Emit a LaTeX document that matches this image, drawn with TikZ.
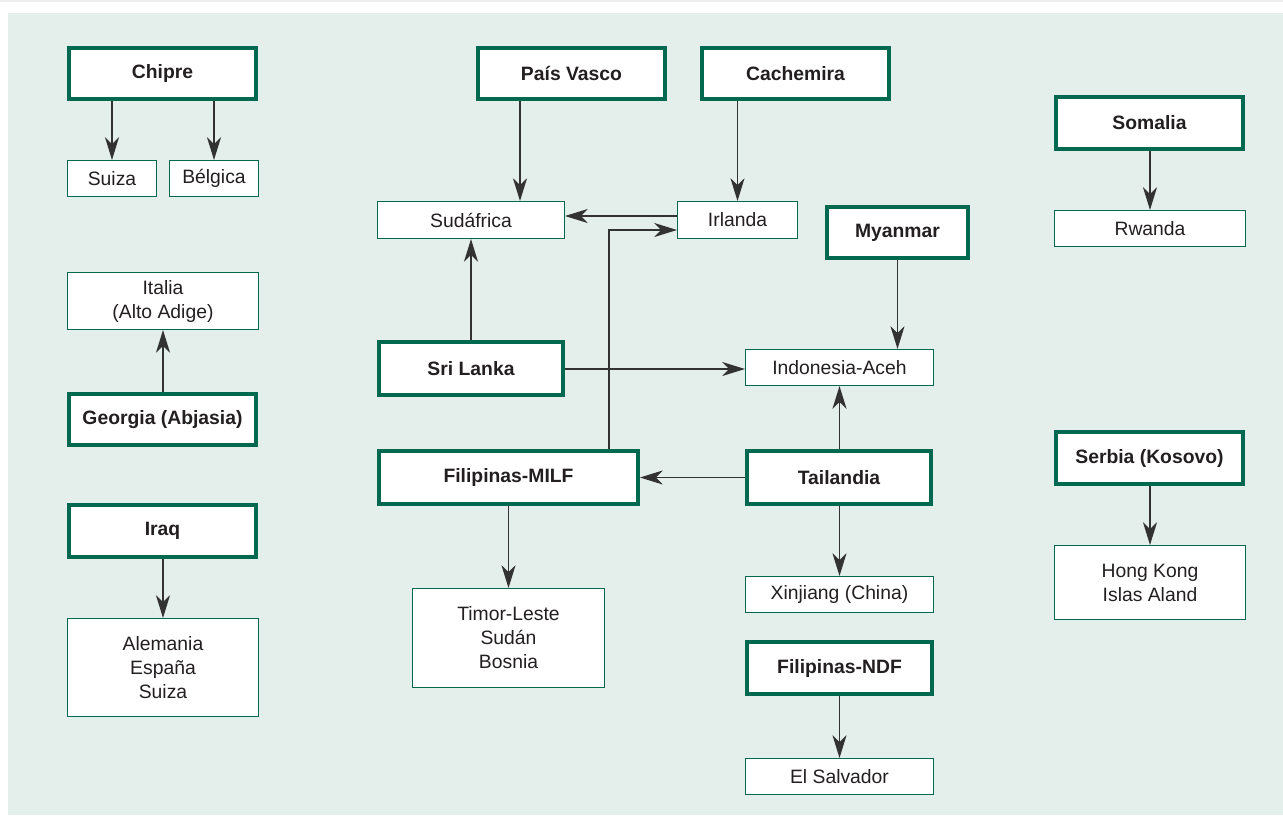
\documentclass[tikz,border=0pt]{standalone}
\usepackage{fontspec}
\setmainfont{Liberation Sans}
\usetikzlibrary{arrows.meta}

\definecolor{framegreen}{RGB}{0,105,80}
\definecolor{panelbg}{RGB}{228,238,234}
\definecolor{linegray}{RGB}{50,50,50}
\definecolor{textgray}{RGB}{35,31,32}
\newcommand{\boxfont}{\fontsize{14.5}{18}\selectfont}

\tikzset{
  every picture/.style={line width=0.75pt},
  mainbox/.style={draw=framegreen, line width=3pt, fill=white, inner sep=0pt,
    align=center, text=textgray, font=\boxfont\bfseries},
  linkbox/.style={draw=framegreen, line width=1pt, fill=white, inner sep=0pt,
    align=center, text=textgray, font=\boxfont},
  arr/.style={draw=linegray, line width=1.2pt, -{Stealth[length=17pt,width=10.5pt,inset=5pt]}}
}

\begin{document}
\begin{tikzpicture}[x=0.75pt,y=0.75pt,yscale=-1,xscale=1]
        \useasboundingbox (0,0) rectangle (1283,815);

        %Shape: Rectangle
        \fill [color={rgb, 255:red, 238; green, 238; blue, 238 }] (0,0) rectangle (1283,1.5);
        \fill [panelbg] (8,13) rectangle (1283,815);

        % Main boxes
        \node [mainbox, minimum width=140.25pt, minimum height=38.25pt] (chipre) at (162.5,73.5) {Chipre};
        \node [mainbox, minimum width=140.25pt, minimum height=38.25pt] (vasco) at (571.5,73.5) {País Vasco};
        \node [mainbox, minimum width=140.25pt, minimum height=38.25pt] (cachemira) at (795.5,73.5) {Cachemira};
        \node [mainbox, minimum width=140.25pt, minimum height=39pt] (somalia) at (1149.5,123) {Somalia};
        \node [mainbox, minimum width=105.75pt, minimum height=38.25pt] (myanmar) at (897.5,232.5) {Myanmar};
        \node [mainbox, minimum width=140.25pt, minimum height=38.25pt] (georgia) at (162.5,419.5) {Georgia (Abjasia)};
        \node [mainbox, minimum width=138pt, minimum height=39.75pt] (srilanka) at (471,368.5) {Sri Lanka};
        \node [mainbox, minimum width=194.25pt, minimum height=39.75pt] (milf) at (508.5,477.5) {Filipinas-MILF};
        \node [mainbox, minimum width=138pt, minimum height=39.75pt] (tailandia) at (839,477.5) {Tailandia};
        \node [mainbox, minimum width=140.25pt, minimum height=39pt] (serbia) at (1149.5,458) {Serbia (Kosovo)};
        \node [mainbox, minimum width=140.25pt, minimum height=39pt] (iraq) at (162.5,531) {Iraq};
        \node [mainbox, minimum width=138.75pt, minimum height=39pt] (ndf) at (839.5,668) {Filipinas-NDF};

        % Linked boxes
        \node [linkbox, minimum width=66.5pt, minimum height=26.8pt] (suiza) at (112,178.5) {Suiza};
        \node [linkbox, minimum width=66.5pt, minimum height=26.8pt] (belgica) at (214,178.5) {Bélgica};
        \node [linkbox, minimum width=143pt, minimum height=26.8pt] (rwanda) at (1150,228.5) {Rwanda};
        \node [linkbox, minimum width=140pt, minimum height=27.5pt] (sudafrica) at (471,220) {Sudáfrica};
        \node [linkbox, minimum width=89.8pt, minimum height=27.5pt] (irlanda) at (737.5,220) {Irlanda};
        \node [linkbox, minimum width=143pt, minimum height=42.5pt] (italia) at (163,301) {Italia\\(Alto Adige)};
        \node [linkbox, minimum width=140.8pt, minimum height=26.8pt] (indonesia) at (839.5,367.5) {Indonesia-Aceh};
        \node [linkbox, minimum width=143pt, minimum height=73.3pt] (alemania) at (163,667.5) {Alemania\\España\\Suiza};
        \node [linkbox, minimum width=143.8pt, minimum height=74pt] (timor) at (508.5,638) {Timor-Leste\\Sudán\\Bosnia};
        \node [linkbox, minimum width=140.8pt, minimum height=26.8pt] (xinjiang) at (839.5,594.5) {Xinjiang (China)};
        \node [linkbox, minimum width=140.8pt, minimum height=26.8pt] (salvador) at (839.5,776.5) {El Salvador};
        \node [linkbox, minimum width=143pt, minimum height=55.3pt] (hongkong) at (1150,582.5) {Hong Kong\\Islas Aland};

        %Straight Lines
        \draw [arr] (chipre.south -| suiza.north) -- (suiza.north);
        \draw [arr] (chipre.south -| belgica.north) -- (belgica.north);
        \draw [arr] (vasco.south -| 520,0) -- (sudafrica.north -| 520,0);
        \draw [arr] (cachemira.south -| irlanda.north) -- (irlanda.north);
        \draw [arr] (irlanda.west |- 0,216) -- (sudafrica.east |- 0,216);
        \draw [arr] (milf.north -| 609,0) |- (irlanda.west |- 0,230);
        \draw [arr] (srilanka.north) -- (sudafrica.south);
        \draw [arr] (srilanka.east |- 0,369) -- (indonesia.west |- 0,369);
        \draw [arr] (myanmar.south) -- (myanmar.south |- indonesia.north);
        \draw [arr] (tailandia.north -| indonesia.south) -- (indonesia.south);
        \draw [arr] (tailandia.west) -- (milf.east);
        \draw [arr] (milf.south) -- (timor.north);
        \draw [arr] (tailandia.south -| xinjiang.north) -- (xinjiang.north);
        \draw [arr] (ndf.south -| salvador.north) -- (salvador.north);
        \draw [arr] (georgia.north -| italia.south) -- (italia.south);
        \draw [arr] (iraq.south -| alemania.north) -- (alemania.north);
        \draw [arr] (somalia.south -| rwanda.north) -- (rwanda.north);
        \draw [arr] (serbia.south -| hongkong.north) -- (hongkong.north);

\end{tikzpicture}
\end{document}
